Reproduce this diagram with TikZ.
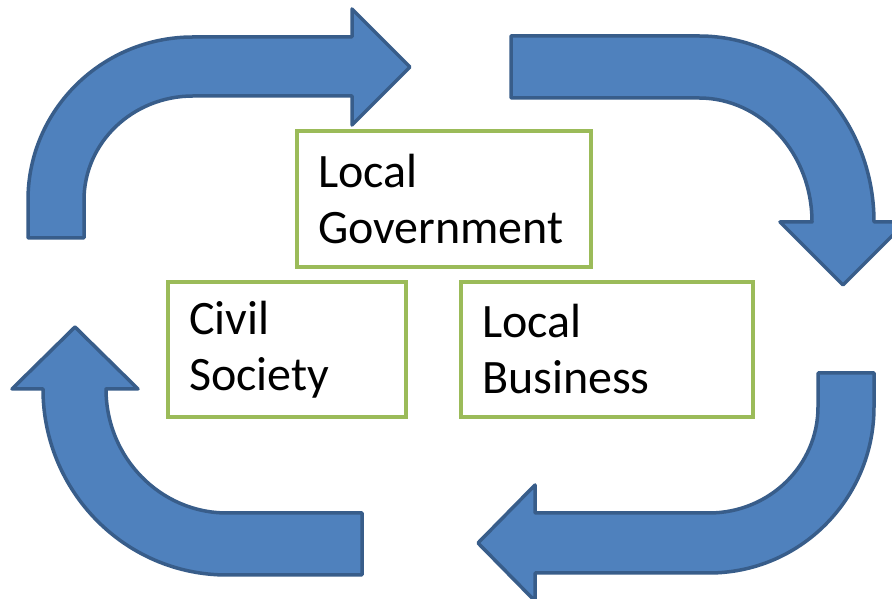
\documentclass[tikz,border=0pt]{standalone}
\usepackage{fontspec}
\setmainfont{Carlito}
\usepackage{xcolor}
\definecolor{cycleblue}{HTML}{4F81BD}
\definecolor{cycleedge}{HTML}{385D8A}
\definecolor{boxgreen}{HTML}{9BBB59}

\begin{document}
\begin{tikzpicture}[x=1pt,y=1pt,node distance = 320pt,
        cyclearrow/.style={fill=cycleblue,draw=cycleedge,line width=3.5pt,line join=round},
        actor/.style={draw=boxgreen,line width=4.5pt,align=left,inner xsep=21pt,minimum height=135pt,font=\fontsize{48}{56}\selectfont}]
        \useasboundingbox (0,0) rectangle (892,599);
        \fill[white] (0,0) rectangle (892,599);
        \draw[cyclearrow] (28,361) -- (28,399) arc[start angle=180,end angle=90,x radius=165,y radius=163]
            -- (352,562) -- (352,590) -- (410,532) -- (352,474) -- (352,503) -- (193,503)
            arc[start angle=90,end angle=180,x radius=109,y radius=104] -- (84,361) -- cycle;
        \draw[cyclearrow] (511,563) -- (699,563) arc[start angle=90,end angle=0,x radius=175,y radius=186]
            -- (906,377) -- (843,314) -- (780,377) -- (812,377)
            arc[start angle=0,end angle=90,x radius=113,y radius=124] -- (511,501) -- cycle;
        \draw[cyclearrow] (818,226) -- (874,226) -- (874,192) arc[start angle=0,end angle=-90,x radius=165,y radius=166]
            -- (535,26) -- (535,-2) -- (478,56) -- (535,114) -- (535,86) -- (709,86)
            arc[start angle=-90,end angle=0,x radius=109,y radius=106] -- cycle;
        \draw[cyclearrow] (75,272) -- (138,210) -- (106,210) arc[start angle=180,end angle=270,x radius=121,y radius=124]
            -- (362,86) -- (362,24) -- (227,24)
            arc[start angle=270,end angle=180,x radius=184,y radius=186] -- (12,210) -- cycle;
        \node[actor,text width=252pt,minimum height=136pt](G) at (444,400){Local\\Government};
        \node[actor,text width=196pt](C) at (287,249.5){Civil\\Society};
        \node[actor,text width=250pt](B)[right of = C]{Local\\Business};
    \end{tikzpicture}
\end{document}
